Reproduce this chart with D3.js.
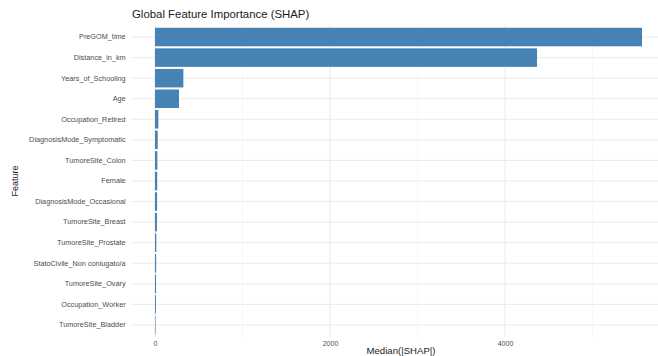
<!DOCTYPE html>
<html>
<head>
<meta charset="utf-8">
<script src="https://cdn.jsdelivr.net/npm/d3@7"></script>
<style>
  html, body { margin: 0; padding: 0; background: #fff; }
  svg { display: block; font-family: "Liberation Sans", Arial, sans-serif; }
</style>
</head>
<body>
<svg id="chart" width="658" height="356"></svg>
<script>
// Features, ordered from most to least important
const features = [
  "PreGOM_time", "Distance_in_km", "Years_of_Schooling", "Age",
  "Occupation_Retired", "DiagnosisMode_Symptomatic", "TumoreSite_Colon",
  "Female", "DiagnosisMode_Occasional", "TumoreSite_Breast",
  "TumoreSite_Prostate", "StatoCivile_Non coniugato/a", "TumoreSite_Ovary",
  "Occupation_Worker", "TumoreSite_Bladder"
];
// Median absolute SHAP value per feature
const medianShap = [5566, 4366, 324, 274, 38, 31, 27, 25, 24, 22, 15, 13, 12, 10, 6];
const xTicks = [0, 2000, 4000];
const xMinorTicks = [1000, 3000, 5000];

const svg = d3.select("#chart");
const maxVal = d3.max(medianShap);
const pad = 0.05 * maxVal;

// Panel geometry
const panel = { top: 24.7, bottom: 337.3 };
const zeroX = 155, pxPerUnit = 0.0875;
const x = d3.scaleLinear()
  .domain([-pad, maxVal + pad])
  .range([zeroX - pad * pxPerUnit, zeroX + (maxVal + pad) * pxPerUnit]);

const step = (panel.bottom - panel.top) / (features.length - 1 + 1.2);
const y = d3.scaleBand()
  .domain(features)
  .range([panel.top + 0.6 * step - step / 2, panel.bottom - 0.6 * step + step / 2])
  .paddingInner(0.1)
  .paddingOuter(0.05);
const yc = f => y(f) + y.bandwidth() / 2;

const [px0, px1] = x.range();

// Grid
const grid = svg.append("g");
xMinorTicks.forEach(t => grid.append("line")
  .attr("x1", x(t)).attr("x2", x(t))
  .attr("y1", panel.top).attr("y2", panel.bottom)
  .attr("stroke", "#f3f3f3").attr("stroke-width", 0.6));
xTicks.forEach(t => grid.append("line")
  .attr("x1", x(t)).attr("x2", x(t))
  .attr("y1", panel.top).attr("y2", panel.bottom)
  .attr("stroke", "#ebebeb").attr("stroke-width", 1));
features.forEach(f => grid.append("line")
  .attr("x1", px0).attr("x2", px1)
  .attr("y1", yc(f)).attr("y2", yc(f))
  .attr("stroke", "#ebebeb").attr("stroke-width", 1));

// Bars
svg.append("g").selectAll("rect")
  .data(features.map((f, i) => ({ f, v: medianShap[i] })))
  .join("rect")
  .attr("x", x(0))
  .attr("y", d => y(d.f))
  .attr("width", d => x(d.v) - x(0))
  .attr("height", y.bandwidth())
  .attr("fill", "#4682b4");

// Y axis labels
const yAxis = d3.axisLeft(y).tickSize(0).tickPadding(5);
const gy = svg.append("g").attr("transform", `translate(${px0},0)`).call(yAxis);
gy.select(".domain").remove();
gy.selectAll("text").attr("fill", "#4d4d4d").style("font-size", "7.3px");

// X axis labels
const xAxis = d3.axisBottom(x).tickValues(xTicks).tickSize(0).tickPadding(4).tickFormat(d3.format("d"));
const gx = svg.append("g").attr("transform", `translate(0,${panel.bottom})`).call(xAxis);
gx.select(".domain").remove();
gx.selectAll("text").attr("fill", "#4d4d4d").style("font-size", "7px");

// Titles
svg.append("text")
  .attr("x", 132).attr("y", 18)
  .attr("fill", "#1a1a1a").style("font-size", "11.4px")
  .text("Global Feature Importance (SHAP)");

svg.append("text")
  .attr("x", 401).attr("y", 354)
  .attr("text-anchor", "middle")
  .attr("fill", "#1a1a1a").style("font-size", "9.6px")
  .text("Median(|SHAP|)");

svg.append("text")
  .attr("transform", `translate(18,${(panel.top + panel.bottom) / 2}) rotate(-90)`)
  .attr("text-anchor", "middle")
  .attr("fill", "#1a1a1a").style("font-size", "9px")
  .text("Feature");
</script>
</body>
</html>
